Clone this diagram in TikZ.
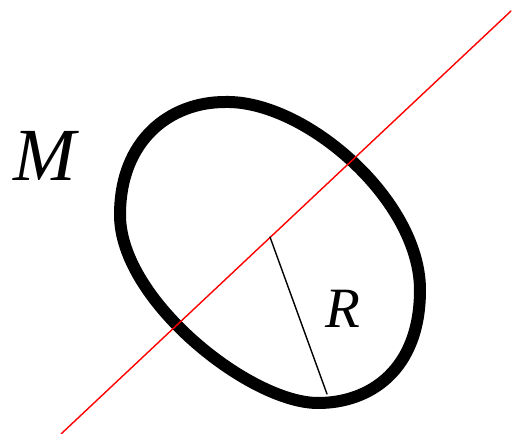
\documentclass[tikz,border=0pt]{standalone}
\usepackage{fontspec}
\setmainfont{Liberation Serif}
\begin{document}
\begin{tikzpicture}[x=1pt,y=-1pt,line cap=round,line join=round,
  rim/.style={line width=12pt},
  axis/.style={red,line width=1.4pt},
  radius/.style={line width=1.4pt}]
  % Closed loop M cut by a red axis, with a radius R from its centre.
  \useasboundingbox (0,0) rectangle (512,434);
  \coordinate (T) at (225,102);
  \coordinate (Rt) at (420,290);
  \coordinate (B) at (318,403);
  \coordinate (L) at (120,215);
  \draw[rim] (T) .. controls (305,100) and (420,200) .. (Rt)
    .. controls (420,370) and (370,403) .. (B)
    .. controls (250,403) and (120,300) .. (L)
    .. controls (120,140) and (170,102) .. (T) -- cycle;
  \coordinate (P) at (61,434);
  \coordinate (Q) at (511,11);
  \draw[axis] (P)--(Q);
  \coordinate (O) at (270,237);
  \coordinate (E) at (327,394);
  \draw[radius] (O)--(E);
  \node (lm) at (45,156) {\fontsize{75}{75}\selectfont\itshape M};
  \node (lr) at (343,309) {\fontsize{57}{57}\selectfont\itshape R};
\end{tikzpicture}
\end{document}
